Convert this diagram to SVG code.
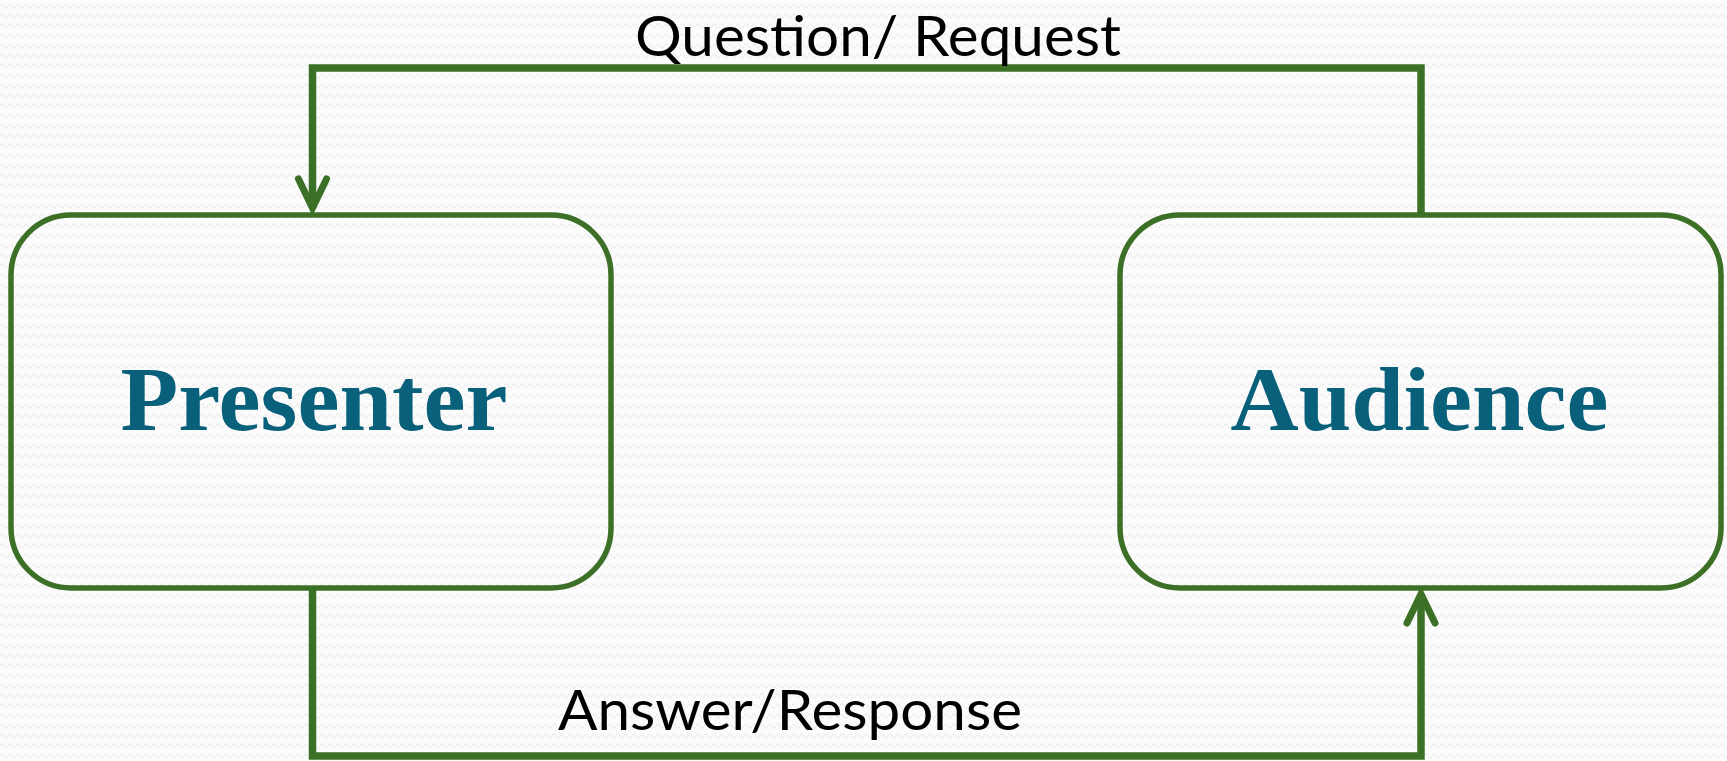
<svg xmlns="http://www.w3.org/2000/svg" width="1727" height="761" viewBox="0 0 1727 761">
  <defs>
    <!-- faint wavy paper texture -->
    <pattern id="waves" width="8" height="10" patternUnits="userSpaceOnUse">
      <rect width="8" height="10" fill="#fcfcfc"/>
      <path d="M0 6 Q2 2 4 6 T8 6" fill="none" stroke="#f0f0f0" stroke-width="1.6"/>
    </pattern>
    <!-- open V arrowhead, tip at the path end -->
    <marker id="arrow" viewBox="-40 -25 50 50" markerWidth="50" markerHeight="50" refX="0" refY="0" orient="auto" markerUnits="userSpaceOnUse">
      <path d="M-29 -14 L0 0 L-29 14" fill="none" stroke="#3b7026" stroke-width="7" stroke-linecap="round" stroke-linejoin="miter" stroke-miterlimit="10"/>
    </marker>
    <style>
      .box { fill: none; stroke: #3b7026; stroke-width: 5.5; }
      .link { fill: none; stroke: #3b7026; stroke-width: 7.5; stroke-linejoin: miter; }
      .node-label { font-family: "Liberation Serif", "DejaVu Serif", serif; font-weight: bold; font-size: 90px; fill: #08607a; text-anchor: middle; }
      .edge-label { font-family: Lato, "Open Sans", sans-serif; font-size: 56px; fill: #000; }
    </style>
  </defs>

  <rect width="1727" height="761" fill="url(#waves)"/>

  <g id="connectors">
    <!-- Audience -> Presenter, over the top -->
    <path class="link" d="M1421 215 V68 H312.5 V208" marker-end="url(#arrow)"/>
    <!-- Presenter -> Audience, along the bottom -->
    <path class="link" d="M312.5 588 V756 H1421 V594" marker-end="url(#arrow)"/>
    <text id="label-question" class="edge-label" x="635" y="56" textLength="486" lengthAdjust="spacingAndGlyphs">Question/ Request</text>
    <text id="label-answer" class="edge-label" x="558" y="730" textLength="464" lengthAdjust="spacingAndGlyphs">Answer/Response</text>
  </g>

  <g id="presenter">
    <rect class="box" x="11" y="215" width="600" height="373" rx="60" ry="60"/>
    <text class="node-label" x="314" y="430" textLength="387" lengthAdjust="spacingAndGlyphs">Presenter</text>
  </g>

  <g id="audience">
    <rect class="box" x="1120" y="215" width="601" height="373" rx="60" ry="60"/>
    <text class="node-label" x="1419.5" y="430" textLength="378" lengthAdjust="spacingAndGlyphs">Audience</text>
  </g>
</svg>
